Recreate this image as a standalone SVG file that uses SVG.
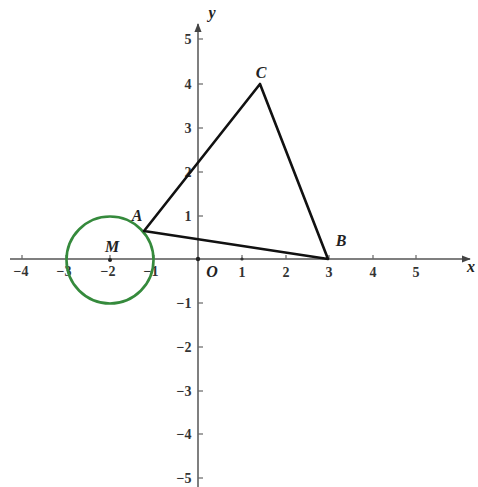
<svg xmlns="http://www.w3.org/2000/svg" width="478" height="487" viewBox="0 0 478 487">
<defs>
<marker id="arr" viewBox="0 0 10 10" refX="9" refY="5" markerWidth="9" markerHeight="9" markerUnits="userSpaceOnUse" orient="auto"><path d="M0,1 L10,5 L0,9 Z" fill="#444"/></marker>
<style>
.ax{stroke:#555;stroke-width:1.5;fill:none}
.tk{stroke:#666;stroke-width:1.2}
.num{font-family:'Liberation Serif','Times New Roman',serif;font-size:14px;font-weight:bold;fill:#333;text-anchor:middle}
.lab{font-family:'Liberation Serif','Times New Roman',serif;font-size:16px;font-weight:bold;font-style:italic;fill:#222;text-anchor:middle}
.tri{stroke:#111;stroke-width:2.6;fill:none;stroke-linejoin:round}
</style>
</defs>
<rect width="478" height="487" fill="#fff"/>
<g id="axes">
<line class="ax" x1="10" y1="259" x2="470" y2="259" marker-end="url(#arr)"/>
<line class="ax" x1="198" y1="487" x2="198" y2="24" marker-end="url(#arr)"/>
<g class="tk">
<line x1="22" y1="255" x2="22" y2="259"/><line x1="66" y1="255" x2="66" y2="259"/><line x1="110" y1="255" x2="110" y2="259"/><line x1="154" y1="255" x2="154" y2="259"/>
<line x1="242" y1="255" x2="242" y2="259"/><line x1="286" y1="255" x2="286" y2="259"/><line x1="329" y1="255" x2="329" y2="259"/><line x1="373" y1="255" x2="373" y2="259"/><line x1="416" y1="255" x2="416" y2="259"/>
<line x1="198" y1="39" x2="203" y2="39"/><line x1="198" y1="84" x2="203" y2="84"/><line x1="198" y1="128" x2="203" y2="128"/><line x1="198" y1="172" x2="203" y2="172"/><line x1="198" y1="216" x2="203" y2="216"/>
<line x1="198" y1="303" x2="203" y2="303"/><line x1="198" y1="347" x2="203" y2="347"/><line x1="198" y1="391" x2="203" y2="391"/><line x1="198" y1="434" x2="203" y2="434"/><line x1="198" y1="478" x2="203" y2="478"/>
</g>
<circle cx="198" cy="259" r="2.2" fill="#222"/>
<circle cx="242" cy="259" r="1.6" fill="#333"/>
<g class="num">
<text x="21" y="276">−4</text><text x="64" y="276">−3</text><text x="108" y="276">−2</text><text x="151" y="276">−1</text>
<text x="242" y="277">1</text><text x="286" y="277">2</text><text x="329" y="277">3</text><text x="373" y="277">4</text><text x="416" y="277">5</text>
<text x="188" y="44">5</text><text x="188" y="89">4</text><text x="188" y="133">3</text><text x="188" y="177">2</text><text x="188" y="221">1</text>
<text x="184" y="308">−1</text><text x="184" y="352">−2</text><text x="184" y="396">−3</text><text x="184" y="439">−4</text><text x="184" y="483">−5</text>
</g>
<text class="lab" x="212" y="277">O</text>
<text class="lab" x="212" y="18">y</text>
<text class="lab" x="471" y="272">x</text>
</g>
<g id="circleM">
<circle cx="110" cy="260" r="43.5" fill="none" stroke="#358a3c" stroke-width="2.6"/>
<circle cx="110" cy="260" r="2" fill="#222"/>
<text class="lab" x="112" y="252">M</text>
</g>
<g id="triangle">
<path class="tri" d="M144,231 L260,84 L328,259 Z"/>
<text class="lab" x="261" y="78">C</text>
<text class="lab" x="137" y="221">A</text>
<text class="lab" x="341" y="246">B</text>
</g>
</svg>
